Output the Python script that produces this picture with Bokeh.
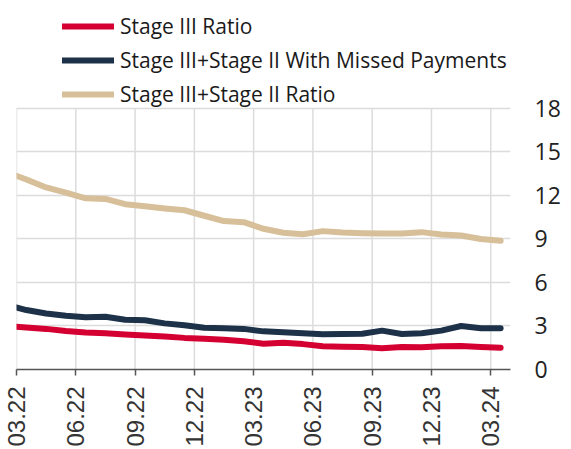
import numpy as np
from bokeh.plotting import figure
from bokeh.models import Range1d, FixedTicker, Legend, LegendItem
from bokeh.embed import file_html
from bokeh.resources import INLINE

# Monthly observations (plotted at mid-month); first one precedes the visible range
periods = ["02.22", "03.22", "04.22", "05.22", "06.22", "07.22", "08.22", "09.22",
           "10.22", "11.22", "12.22", "01.23", "02.23", "03.23", "04.23", "05.23",
           "06.23", "07.23", "08.23", "09.23", "10.23", "11.23", "12.23", "01.24",
           "02.24", "03.24"]
stage3_ratio = [3.0, 2.9, 2.8, 2.65, 2.55, 2.5, 2.42, 2.35, 2.28, 2.18, 2.12, 2.05, 1.95,
                1.78, 1.85, 1.75, 1.6, 1.56, 1.55, 1.47, 1.55, 1.54, 1.6, 1.62, 1.55, 1.5]
stage32_missed = [4.45, 4.1, 3.86, 3.7, 3.6, 3.64, 3.43, 3.4, 3.18, 3.05, 2.88, 2.84, 2.8,
                  2.63, 2.57, 2.5, 2.43, 2.45, 2.47, 2.68, 2.45, 2.5, 2.68, 3.0, 2.84, 2.84]
stage32_ratio = [13.6, 13.1, 12.55, 12.2, 11.8, 11.76, 11.4, 11.25, 11.1, 10.98, 10.6, 10.23,
                 10.16, 9.7, 9.43, 9.33, 9.54, 9.45, 9.4, 9.38, 9.38, 9.47, 9.31, 9.24, 9.0, 8.88]
tick_labels = ["03.22", "06.22", "09.22", "12.22", "03.23", "06.23", "09.23", "12.23", "03.24"]
y_ticks = [0, 3, 6, 9, 12, 15, 18]

names = ["Stage III Ratio", "Stage III+Stage II With Missed Payments", "Stage III+Stage II Ratio"]
colors = ["#d50032", "#1d3148", "#d7bf99"]

origin = periods.index(tick_labels[0])
x = np.arange(len(periods)) - origin + 0.5
tick_pos = [periods.index(t) - origin for t in tick_labels]

# frame extends above the value axis so the legend sits inside it (space for legend)
p = figure(width=563, height=449, output_backend="svg", toolbar_location=None,
           y_axis_location="right",
           x_range=Range1d(0, 25), y_range=Range1d(0, 25.44),
           min_border_left=16, min_border_right=53, min_border_top=0, min_border_bottom=78)
p.outline_line_color = None
p.background_fill_color = "white"
p.border_fill_color = "white"

# vertical grid lines only across the value range
p.xgrid.visible = False
p.segment(x0=tick_pos, y0=[y_ticks[0]] * len(tick_pos), x1=tick_pos, y1=[y_ticks[-1]] * len(tick_pos),
          line_color="#dcdcdc", line_width=1.5)

renderers = []
for vals, col in zip([stage3_ratio, stage32_missed, stage32_ratio], colors):
    r = p.line(x, vals, line_color=col, line_width=6, line_cap="round", line_join="round")
    renderers.append(r)

p.xaxis.ticker = FixedTicker(ticks=tick_pos)
p.xaxis.major_label_overrides = {t: l for t, l in zip(tick_pos, tick_labels)}
p.xaxis.major_label_orientation = np.pi / 2
p.xaxis.major_label_text_font = "Liberation Sans"
p.xaxis.major_label_text_font_size = "24px"
p.xaxis.major_label_text_color = "#333333"
p.xaxis.major_label_standoff = 11
p.xaxis.axis_line_color = "#555555"
p.xaxis.axis_line_width = 1.5
p.xaxis.major_tick_line_color = "#555555"
p.xaxis.major_tick_line_width = 1.5
p.xaxis.major_tick_out = 6
p.xaxis.major_tick_in = 0
p.xaxis.minor_tick_line_color = None

p.yaxis.ticker = FixedTicker(ticks=y_ticks)
p.yaxis.major_label_text_font = "Open Sans"
p.yaxis.major_label_text_font_size = "23px"
p.yaxis.major_label_text_color = "#222222"
p.yaxis.major_label_standoff = 24
p.yaxis.major_tick_out = 0
p.yaxis.major_tick_in = 0
p.yaxis.axis_line_color = None
p.yaxis.major_tick_line_color = None
p.yaxis.minor_tick_line_color = None

p.ygrid.ticker = FixedTicker(ticks=y_ticks)
p.ygrid.grid_line_color = "#dcdcdc"
p.ygrid.grid_line_width = 1.5

legend = Legend(items=[LegendItem(label=n, renderers=[r]) for n, r in zip(names, renderers)],
                location=(46, 260), orientation="vertical",
                label_text_font="Open Sans", label_text_font_size="21px",
                label_text_color="#1a1a1a",
                glyph_width=52, glyph_height=30, label_height=30, spacing=4,
                label_standoff=6, padding=0, margin=0,
                border_line_color=None, background_fill_alpha=0)
p.add_layout(legend, "center")

open("out.html", "w").write(file_html(p, INLINE))
